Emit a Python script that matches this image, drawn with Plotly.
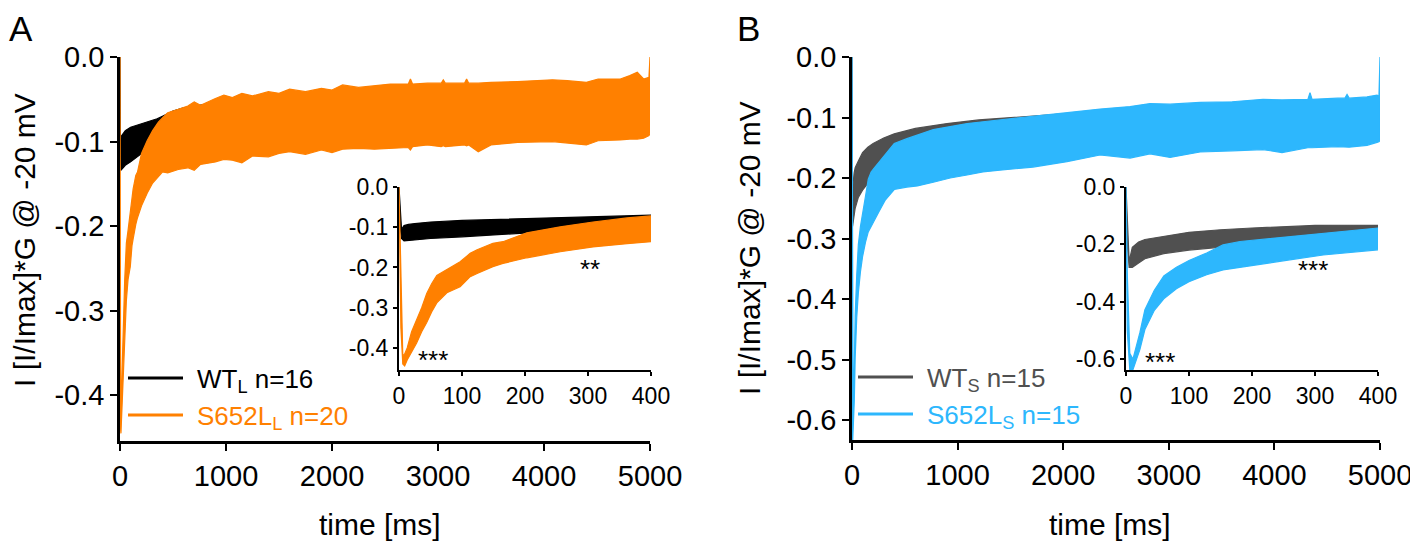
import plotly.graph_objects as go

# the page body has an 8 px margin, so the figure is 8 px smaller and
# reference pixel positions are shifted by that margin in px()/py()
PAGE_W, PAGE_H, OFF = 1418, 546, 8
W, H = PAGE_W - OFF, PAGE_H - OFF

# ---- panel A: long pulse (L) ----
# WT_L: time [ms], upper / lower edge of the noisy trace
a_wt_t = [0, 2, 4, 8, 15, 25, 50, 100, 150, 200, 250, 300, 350, 400, 500, 600, 700,
          1000, 1500, 2000, 3000, 4000, 5000]
a_wt_up = [0, -0.06, -0.105, -0.096, -0.093, -0.091, -0.087, -0.083, -0.081, -0.079, -0.077,
           -0.075, -0.073, -0.07, -0.064, -0.06, -0.058, -0.052, -0.047, -0.043, -0.040,
           -0.037, -0.035]
a_wt_lo = [0, -0.10, -0.128, -0.134, -0.134, -0.132, -0.128, -0.124, -0.12, -0.114, -0.11,
           -0.105, -0.1, -0.097, -0.095, -0.094, -0.093, -0.09, -0.088, -0.086, -0.085,
           -0.083, -0.082]

# S652L_L
a_mut_t = [0, 3, 6, 9, 13, 20, 28, 36, 44, 52, 60, 76, 97, 113, 124, 149, 165, 203, 256,
           308, 362,
           400, 450, 550, 640, 700, 760, 900, 980, 1060, 1150,
           1250, 1400, 1500, 1600, 1750, 1900, 2000, 2100, 2250, 2400,
           2550, 2720, 2740, 2760, 2900, 3030, 3050, 3070, 3250, 3270,
           3290, 3380, 3500, 3750, 4080, 4220, 4400, 4510, 4720, 4810,
           4880, 4940, 4990, 5000]
a_mut_up = [0, -0.25, -0.42, -0.415, -0.40, -0.36, -0.33, -0.30, -0.265, -0.24, -0.22,
            -0.205, -0.186, -0.165, -0.156, -0.14, -0.136, -0.114, -0.099, -0.087, -0.077,
            -0.072, -0.066, -0.062, -0.058, -0.053, -0.057, -0.049, -0.045, -0.048, -0.043,
            -0.046, -0.041, -0.043, -0.038, -0.041, -0.037, -0.039, -0.033, -0.036, -0.034,
            -0.032, -0.032, -0.026, -0.032, -0.031, -0.031, -0.027, -0.031, -0.031, -0.026,
            -0.031, -0.031, -0.030, -0.029, -0.027, -0.028, -0.030, -0.026, -0.026, -0.022,
            -0.018, -0.026, -0.024, 0.0]
a_mut_lo = [0, -0.35, -0.44, -0.445, -0.43, -0.41, -0.388, -0.36, -0.337, -0.31, -0.288,
            -0.263, -0.248, -0.223, -0.215, -0.198, -0.19, -0.176, -0.161, -0.149, -0.141,
            -0.136, -0.137, -0.133, -0.131, -0.134, -0.127, -0.124, -0.121, -0.122, -0.125,
            -0.117, -0.118, -0.114, -0.112, -0.115, -0.110, -0.113, -0.109, -0.108, -0.109,
            -0.108, -0.107, -0.110, -0.106, -0.104, -0.106, -0.105, -0.106, -0.104, -0.105,
            -0.104, -0.112, -0.104, -0.101, -0.100, -0.102, -0.104, -0.099, -0.098, -0.097,
            -0.097, -0.096, -0.093, -0.09]

# ---- panel B: short pulse (S) ----
b_wt_t = [0, 2, 5, 10, 20, 30, 60, 100, 150, 200, 300, 400, 600, 900, 1200, 1700, 2000,
          2500, 3000, 4000, 5000]
b_wt_up = [0, -0.12, -0.26, -0.21, -0.192, -0.183, -0.172, -0.158, -0.149, -0.143, -0.134,
           -0.127, -0.118, -0.11, -0.104, -0.097, -0.094, -0.09, -0.086, -0.079, -0.072]
b_wt_lo = [0, -0.2, -0.28, -0.28, -0.265, -0.25, -0.232, -0.22, -0.209, -0.2, -0.187,
           -0.177, -0.168, -0.16, -0.155, -0.15, -0.147, -0.144, -0.141, -0.137, -0.132]

b_mut_t = [0, 2, 6, 11, 22, 30, 45, 60, 80, 100, 128, 154, 181, 208, 260, 313, 367, 400,
           520, 620, 770, 930, 1090, 1240, 1400, 1714,
           2036, 2349, 2633, 2822, 3012, 3296, 3600, 3892, 4072, 4317,
           4337, 4357, 4600, 4668, 4688, 4708, 4877, 4972, 4990, 5000]
b_mut_up = [0, -0.30, -0.58, -0.60, -0.508, -0.428, -0.36, -0.31, -0.28, -0.256, -0.23,
            -0.202, -0.19, -0.184, -0.173, -0.16, -0.15, -0.143, -0.135, -0.129, -0.12,
            -0.115, -0.11, -0.107, -0.104, -0.099,
            -0.093, -0.086, -0.082, -0.077, -0.078, -0.075, -0.074, -0.070, -0.071, -0.070,
            -0.059, -0.070, -0.068, -0.068, -0.062, -0.068, -0.066, -0.063, -0.065, 0.0]
b_mut_lo = [0, -0.50, -0.637, -0.637, -0.567, -0.497, -0.43, -0.39, -0.355, -0.33, -0.306,
            -0.289, -0.28, -0.271, -0.254, -0.237, -0.226, -0.219, -0.215, -0.213, -0.207,
            -0.2, -0.195, -0.19, -0.187, -0.182,
            -0.173, -0.162, -0.167, -0.160, -0.166, -0.157, -0.155, -0.153, -0.158, -0.150,
            -0.150, -0.150, -0.148, -0.149, -0.149, -0.149, -0.146, -0.141, -0.140, -0.138]

main_x_ticks = [0, 1000, 2000, 3000, 4000, 5000]
inset_x_ticks = [0, 100, 200, 300, 400]
a_main_y_ticks = [0, -0.1, -0.2, -0.3, -0.4]
a_inset_y_ticks = [0, -0.1, -0.2, -0.3, -0.4]
b_main_y_ticks = [0, -0.1, -0.2, -0.3, -0.4, -0.5, -0.6]
b_inset_y_ticks = [0, -0.2, -0.4, -0.6]

legend_a = ["WT<sub>L</sub> n=16", "S652L<sub>L</sub> n=20"]
legend_b = ["WT<sub>S</sub> n=15", "S652L<sub>S</sub> n=15"]

BLACK = "#000000"
ORANGE = "#FF8000"
GRAY = "#505050"
BLUE = "#2DB7FD"
FONT = "Liberation Sans, Arial, sans-serif"


def px(x):
    return (x - OFF) / W


def py(y):
    return 1 - (y - OFF) / H


def band(t, up, lo, color, xa, ya):
    return go.Scatter(
        x=t + t[::-1], y=up + lo[::-1], fill="toself", fillcolor=color,
        mode="lines", line=dict(color=color, width=1.2),
        xaxis=xa, yaxis=ya, hoverinfo="skip", showlegend=False,
    )


def ylab(v):
    return "0.0" if v == 0 else f"{v:.1f}"


fig = go.Figure()
for xa, ya in [("x", "y"), ("x2", "y2")]:
    fig.add_trace(band(a_wt_t, a_wt_up, a_wt_lo, BLACK, xa, ya))
    fig.add_trace(band(a_mut_t, a_mut_up, a_mut_lo, ORANGE, xa, ya))
for xa, ya in [("x3", "y3"), ("x4", "y4")]:
    fig.add_trace(band(b_wt_t, b_wt_up, b_wt_lo, GRAY, xa, ya))
    fig.add_trace(band(b_mut_t, b_mut_up, b_mut_lo, BLUE, xa, ya))

axis_common = dict(showgrid=False, zeroline=False, showline=True, linecolor="black",
                   ticks="outside", tickcolor="black", automargin=False)
main_ax = dict(axis_common, linewidth=2.5, tickwidth=2, ticklen=7,
               tickfont=dict(family=FONT, size=29, color="black"))
inset_ax = dict(axis_common, linewidth=2, tickwidth=2, ticklen=4,
                tickfont=dict(family=FONT, size=23, color="black"))
title_font = dict(family=FONT, size=30, color="black")
ytitle = "I [I/Imax]*G @ -20 mV"

fig.update_layout(
    width=W, height=H, margin=dict(l=0, r=0, t=0, b=0, autoexpand=False),
    paper_bgcolor="white", plot_bgcolor="rgba(0,0,0,0)", showlegend=False,
    xaxis=dict(main_ax, domain=[px(120), px(650)], range=[0, 5000], anchor="y",
               tickvals=main_x_ticks, ticktext=[str(v) for v in main_x_ticks]),
    yaxis=dict(main_ax, domain=[py(441), py(57)], range=[-0.454, 0], anchor="x",
               tickvals=a_main_y_ticks, ticktext=[ylab(v) for v in a_main_y_ticks]),
    xaxis2=dict(inset_ax, domain=[px(399), px(651)], range=[0, 400], anchor="y2",
                tickvals=inset_x_ticks, ticktext=[str(v) for v in inset_x_ticks]),
    yaxis2=dict(inset_ax, domain=[py(370), py(187)], range=[-0.455, 0], anchor="x2",
                tickvals=a_inset_y_ticks, ticktext=[ylab(v) for v in a_inset_y_ticks]),
    xaxis3=dict(main_ax, domain=[px(852), px(1380)], range=[0, 5000], anchor="y3",
                tickvals=main_x_ticks, ticktext=[str(v) for v in main_x_ticks]),
    yaxis3=dict(main_ax, domain=[py(440), py(57)], range=[-0.633, 0], anchor="x3",
                tickvals=b_main_y_ticks, ticktext=[ylab(v) for v in b_main_y_ticks]),
    xaxis4=dict(inset_ax, domain=[px(1126), px(1378)], range=[0, 400], anchor="y4",
                tickvals=inset_x_ticks, ticktext=[str(v) for v in inset_x_ticks]),
    yaxis4=dict(inset_ax, domain=[py(370), py(187)], range=[-0.638, 0], anchor="x4",
                tickvals=b_inset_y_ticks, ticktext=[ylab(v) for v in b_inset_y_ticks]),
)

# axis titles
for x, y in [(24, 240), (749, 248)]:
    fig.add_annotation(text=ytitle, xref="paper", yref="paper", x=px(x), y=py(y),
                       textangle=-90, xanchor="center", yanchor="middle", showarrow=False,
                       font=title_font)
for x, y in [(380, 524), (1110, 524)]:
    fig.add_annotation(text="time [ms]", xref="paper", yref="paper", x=px(x), y=py(y),
                       xanchor="center", yanchor="middle", showarrow=False, font=title_font)

# panel letters (kept inside the top edge of the figure)
for letter, x in [("A", 8), ("B", 736)]:
    fig.add_annotation(text=letter, xref="paper", yref="paper", x=px(x), y=1,
                       xanchor="left", yanchor="top", showarrow=False, borderpad=0,
                       font=dict(family=FONT, size=35, color="black"))

# legends: short line + coloured label
legend_rows = [
    (128, 378, legend_a[0], BLACK), (128, 415, legend_a[1], ORANGE),
    (858, 377, legend_b[0], GRAY), (858, 414, legend_b[1], BLUE),
]
for x0, y0, label, color in legend_rows:
    fig.add_shape(type="line", xref="paper", yref="paper", x0=px(x0), x1=px(x0 + 55),
                  y0=py(y0), y1=py(y0), line=dict(color=color, width=3))
    fig.add_annotation(text=label, xref="paper", yref="paper", x=px(x0 + 67), y=py(y0 + 2),
                       xanchor="left", yanchor="middle", showarrow=False,
                       font=dict(family=FONT, size=26, color=color))

# significance stars in the insets
stars = [("x2", "y2", 54, -0.43, "***"), ("x2", "y2", 303, -0.205, "**"),
         ("x4", "y4", 54, -0.61, "***"), ("x4", "y4", 297, -0.29, "***")]
for xa, ya, x, y, s in stars:
    fig.add_annotation(text=s, xref=xa, yref=ya, x=x, y=y, showarrow=False,
                       xanchor="center", yanchor="middle",
                       font=dict(family=FONT, size=26, color="black"))

fig.write_html("out.html")
